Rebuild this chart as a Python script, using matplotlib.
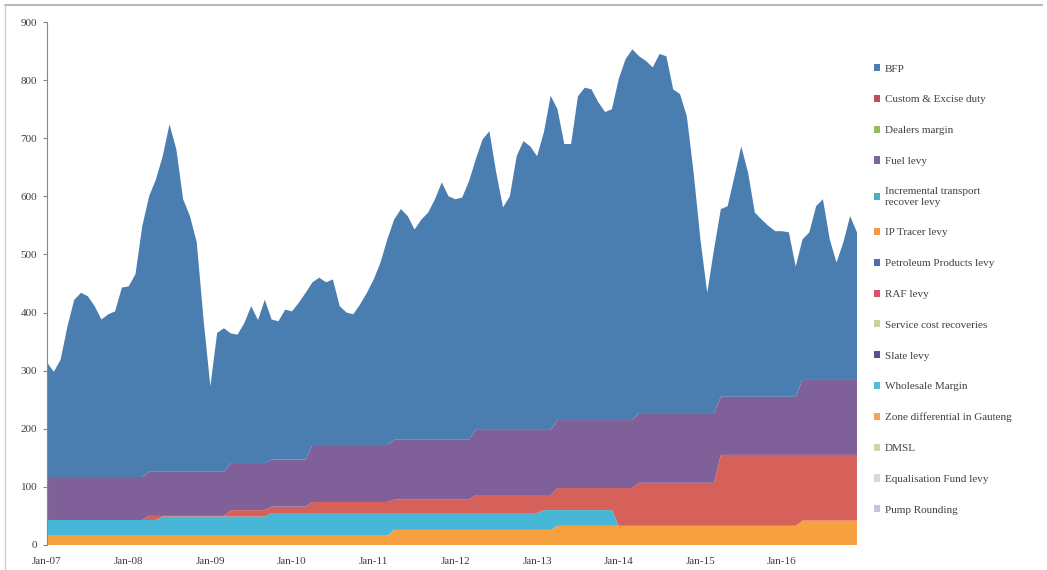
import numpy as np
import matplotlib
matplotlib.use('Agg')
from matplotlib import pyplot as plt
from matplotlib.patches import Patch
from matplotlib.lines import Line2D

plt.rcParams.update({'font.family': 'Liberation Serif', 'font.size': 8})

# monthly, Jan-07 .. Dec-16 (120 months)
n_months = 120
tick_labels = ['Jan-07', 'Jan-08', 'Jan-09', 'Jan-10', 'Jan-11',
               'Jan-12', 'Jan-13', 'Jan-14', 'Jan-15', 'Jan-16']

bfp = [197, 181, 202, 259, 305, 317, 311, 294, 271, 280, 285, 326,
       328, 349, 432, 474, 503, 543, 598, 555, 469, 440, 395, 262,
       147, 239, 247, 223, 221, 241, 270, 246, 281, 241, 238, 258,
       255, 270, 287, 280, 288, 280, 285, 239, 228, 225, 242, 262,
       285, 314, 354, 379, 397, 385, 362, 379, 391, 414, 443, 419,
       414, 417, 445, 466, 500, 514, 443, 383, 402, 471, 497, 488,
       471, 512, 575, 535, 475, 475, 557, 572, 569, 547, 530, 535,
       587, 621, 638, 614, 606, 595, 618, 614, 557, 549, 511, 414,
       299, 207, 282, 323, 328, 379, 431, 386, 317, 305, 294, 285,
       285, 283, 224, 242, 254, 299, 311, 242, 202, 237, 282, 254]

# levies change in steps: (number of months, value)
zone_diff_steps = [(51, 16), (24, 26), (36, 33), (9, 42)]
wholesale_steps = [(17, 27), (16, 33), (18, 39), (22, 29), (2, 34), (9, 27), (36, 0)]
raf_steps = [(15, 0), (2, 7), (10, 1), (12, 11), (12, 19), (12, 23), (10, 31),
             (2, 26), (9, 38), (3, 65), (12, 74), (12, 122), (9, 113)]
fuel_levy_steps = [(15, 74), (12, 76), (12, 81), (12, 98), (12, 103), (12, 112),
                   (12, 117), (12, 120), (12, 100), (9, 129)]

legend_names = ['BFP', 'Custom & Excise duty', 'Dealers margin', 'Fuel levy',
                'Incremental transport\nrecover levy', 'IP Tracer levy',
                'Petroleum Products levy', 'RAF levy', 'Service cost recoveries',
                'Slate levy', 'Wholesale Margin', 'Zone differential in Gauteng',
                'DMSL', 'Equalisation Fund levy', 'Pump Rounding']
legend_colors = ['#4a7eb3', '#c0504d', '#9bbb59', '#8064a2', '#4bacc6', '#f79646',
                 '#4f6fa8', '#d9546a', '#c3d69b', '#5e4f8a', '#4bc0d8', '#f7a35c',
                 '#c6d9b0', '#d9d9d9', '#ccc1da']


def expand(steps):
    return np.concatenate([np.full(m, v) for m, v in steps])


x = np.arange(n_months)
layers = [expand(zone_diff_steps), expand(wholesale_steps), expand(raf_steps),
          expand(fuel_levy_steps), np.array(bfp)]
layer_colors = ['#f7a040', '#48b6d6', '#d6605a', '#7f6098', '#4a7eb0']

fig = plt.figure(figsize=(10.47, 5.70), dpi=100)
ax = fig.add_axes([0.0449, 0.0439, 0.7736, 0.9175])
ax.stackplot(x, *layers, colors=layer_colors, linewidth=0)

ax.set_xlim(0, n_months - 1)
ax.set_ylim(0, 900)
ax.set_yticks(np.arange(0, 901, 100))
ax.set_xticks(np.arange(0, n_months, 12))
ax.set_xticklabels(tick_labels)
ax.tick_params(axis='y', length=3, color='#888888', labelcolor='#404040', labelsize=8, pad=4)
ax.tick_params(axis='x', length=0, labelcolor='#404040', labelsize=8, pad=9)
for side in ['top', 'right', 'bottom']:
    ax.spines[side].set_visible(False)
ax.spines['left'].set_color('#888888')
ax.spines['left'].set_linewidth(0.8)

handles = [Patch(facecolor=c, edgecolor='none') for c in legend_colors]
fig.legend(handles, legend_names, loc='upper left', bbox_to_anchor=(0.825, 0.905),
           frameon=False, fontsize=8, handlelength=0.6, handleheight=0.6,
           handletextpad=0.4, labelspacing=1.92, labelcolor='#404040')

# chart area border (top and left edges)
fig.add_artist(Line2D([0.005, 0.995], [0.991, 0.991], color='#aaaaaa', lw=1.2))
fig.add_artist(Line2D([0.005, 0.005], [0.0, 0.991], color='#cccccc', lw=1.0))

plt.savefig('out.png', dpi=100)
